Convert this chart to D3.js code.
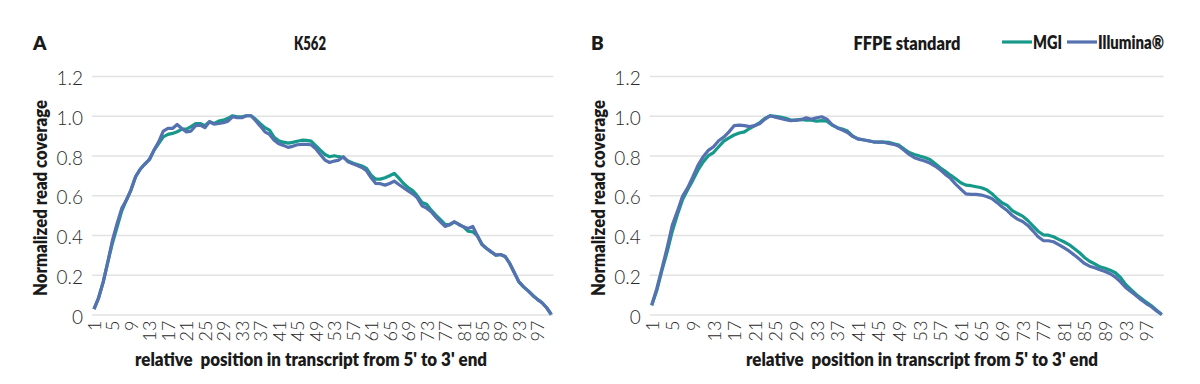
<!DOCTYPE html>
<html>
<head>
<meta charset="utf-8">
<script src="https://cdn.jsdelivr.net/npm/d3@7"></script>
<style>
  body { margin: 0; background: #fff; }
  svg text { font-family: Lato, "Noto Sans", sans-serif; fill: #1a1a1a; }
  .tick text { font-weight: 300; fill: #2a2a2a; }
  .title { font-weight: 800; }
</style>
</head>
<body>
<svg id="chart" width="1200" height="384"></svg>
<script>
// relative position along transcript, 1..100
const positions = d3.range(1, 101);
const xTickLabels = d3.range(1, 101, 4);
const yTicks = [0, 0.2, 0.4, 0.6, 0.8, 1.0, 1.2];
const seriesNames = ["MGI", "Illumina®"];

// K562 (panel A)
const k562Mgi = [
  0.027, 0.084, 0.164, 0.265, 0.360, 0.440, 0.520, 0.575, 0.626, 0.693,
  0.731, 0.757, 0.780, 0.827, 0.860, 0.894, 0.906, 0.911, 0.919, 0.933,
  0.933, 0.945, 0.961, 0.961, 0.950, 0.970, 0.961, 0.973, 0.978, 0.987,
  1.000, 0.995, 0.995, 1.000, 1.000, 0.982, 0.960, 0.940, 0.928, 0.891,
  0.874, 0.867, 0.862, 0.866, 0.872, 0.877, 0.876, 0.872, 0.849, 0.827,
  0.805, 0.794, 0.799, 0.794, 0.790, 0.772, 0.762, 0.755, 0.747, 0.735,
  0.701, 0.681, 0.681, 0.688, 0.698, 0.710, 0.686, 0.659, 0.639, 0.624,
  0.597, 0.564, 0.555, 0.525, 0.500, 0.477, 0.453, 0.451, 0.466, 0.453,
  0.441, 0.419, 0.416, 0.396, 0.352, 0.332, 0.315, 0.299, 0.302, 0.292,
  0.257, 0.210, 0.164, 0.139, 0.119, 0.096, 0.076, 0.059, 0.034, 0.000
];
const k562Illumina = [
  0.027, 0.084, 0.164, 0.265, 0.374, 0.458, 0.534, 0.575, 0.626, 0.693,
  0.731, 0.757, 0.780, 0.827, 0.869, 0.923, 0.936, 0.936, 0.956, 0.936,
  0.919, 0.923, 0.950, 0.953, 0.940, 0.970, 0.958, 0.961, 0.965, 0.973,
  0.995, 0.990, 0.990, 1.000, 1.000, 0.975, 0.948, 0.919, 0.906, 0.877,
  0.859, 0.851, 0.841, 0.846, 0.854, 0.856, 0.856, 0.854, 0.834, 0.805,
  0.777, 0.765, 0.772, 0.777, 0.794, 0.768, 0.758, 0.750, 0.740, 0.723,
  0.688, 0.659, 0.658, 0.651, 0.659, 0.671, 0.654, 0.638, 0.622, 0.607,
  0.587, 0.547, 0.535, 0.517, 0.490, 0.466, 0.443, 0.453, 0.466, 0.453,
  0.441, 0.433, 0.443, 0.396, 0.352, 0.332, 0.315, 0.299, 0.302, 0.292,
  0.257, 0.210, 0.164, 0.139, 0.119, 0.096, 0.076, 0.059, 0.034, 0.000
];

// FFPE standard (panel B)
const ffpeMgi = [
  0.047, 0.122, 0.223, 0.315, 0.419, 0.503, 0.579, 0.629, 0.676, 0.727,
  0.768, 0.799, 0.815, 0.844, 0.872, 0.889, 0.903, 0.913, 0.919, 0.936,
  0.950, 0.966, 0.987, 1.000, 0.997, 0.993, 0.987, 0.978, 0.978, 0.982,
  0.978, 0.978, 0.973, 0.975, 0.973, 0.953, 0.940, 0.933, 0.923, 0.898,
  0.884, 0.879, 0.874, 0.869, 0.867, 0.867, 0.866, 0.859, 0.852, 0.832,
  0.815, 0.805, 0.797, 0.790, 0.780, 0.760, 0.738, 0.720, 0.701, 0.683,
  0.663, 0.651, 0.648, 0.643, 0.638, 0.628, 0.609, 0.584, 0.562, 0.549,
  0.523, 0.508, 0.495, 0.473, 0.446, 0.419, 0.401, 0.399, 0.391, 0.378,
  0.366, 0.352, 0.332, 0.312, 0.287, 0.268, 0.255, 0.240, 0.233, 0.223,
  0.210, 0.186, 0.151, 0.126, 0.102, 0.082, 0.062, 0.044, 0.022, 0.000
];
const ffpeIllumina = [
  0.047, 0.131, 0.232, 0.336, 0.450, 0.520, 0.596, 0.638, 0.693, 0.752,
  0.794, 0.826, 0.844, 0.874, 0.893, 0.919, 0.950, 0.953, 0.950, 0.945,
  0.950, 0.961, 0.983, 1.000, 0.993, 0.987, 0.980, 0.975, 0.978, 0.980,
  0.990, 0.982, 0.990, 0.995, 0.983, 0.956, 0.940, 0.928, 0.916, 0.896,
  0.884, 0.879, 0.874, 0.869, 0.867, 0.867, 0.861, 0.856, 0.846, 0.826,
  0.805, 0.789, 0.780, 0.772, 0.762, 0.747, 0.728, 0.705, 0.685, 0.656,
  0.631, 0.607, 0.604, 0.604, 0.601, 0.594, 0.584, 0.564, 0.542, 0.523,
  0.498, 0.480, 0.468, 0.448, 0.421, 0.391, 0.372, 0.371, 0.366, 0.352,
  0.336, 0.320, 0.300, 0.279, 0.257, 0.243, 0.235, 0.225, 0.216, 0.205,
  0.188, 0.164, 0.136, 0.116, 0.096, 0.074, 0.055, 0.039, 0.018, 0.000
];

const colors = { MGI: "#16998a", "Illumina®": "#5571b0" };

const svg = d3.select("#chart");

// bold label, squeezed to the width seen in the original (condensed face)
function label(g, txt, x, y, width, anchor) {
  const t = g.append("text").attr("class", "title")
    .attr("x", x).attr("y", y)
    .attr("font-size", 19)
    .attr("text-anchor", anchor || "start")
    .attr("xml:space", "preserve")
    .text(txt);
  if (width) t.attr("textLength", width).attr("lengthAdjust", "spacingAndGlyphs");
  return t;
}

function drawPanel(cfg) {
  const g = svg.append("g");

  const x = d3.scalePoint().domain(positions).range([cfg.x0, cfg.x1]);
  const y = d3.scaleLinear().domain([0, 1.2]).range([314.5, 76]);

  // gridlines + y labels
  const yAxis = g.append("g")
    .attr("transform", `translate(${cfg.x0 - 2},0)`)
    .call(d3.axisLeft(y)
      .tickValues(yTicks)
      .tickSize(-(cfg.x1 - cfg.x0 + 4))
      .tickPadding(9)
      .tickFormat(d => d === 0 ? "0" : d3.format(".1f")(d)));
  yAxis.select(".domain").remove();
  yAxis.selectAll(".tick line").attr("stroke", "#e2e2e2").attr("stroke-width", 1.5);
  yAxis.selectAll(".tick text").attr("font-size", 19).attr("dy", "0.45em");

  // x labels, rotated
  const xAxis = g.append("g")
    .attr("transform", `translate(0,${y(0)})`)
    .call(d3.axisBottom(x).tickValues(xTickLabels).tickSize(0));
  xAxis.select(".domain").remove();
  xAxis.selectAll(".tick text")
    .attr("font-size", 18)
    .attr("transform", "rotate(-90)")
    .attr("x", -6)
    .attr("y", 0)
    .attr("dy", "0.36em")
    .style("text-anchor", "end");

  const line = d3.line()
    .x((d, i) => x(positions[i]))
    .y(d => y(d));

  g.append("path")
    .datum(cfg.mgi)
    .attr("fill", "none")
    .attr("stroke", colors.MGI)
    .attr("stroke-width", 3.2)
    .attr("stroke-linejoin", "round")
    .attr("d", line);
  g.append("path")
    .datum(cfg.illumina)
    .attr("fill", "none")
    .attr("stroke", colors["Illumina®"])
    .attr("stroke-width", 3.2)
    .attr("stroke-linejoin", "round")
    .attr("d", line);

  label(g, cfg.letter, cfg.letterX, 50, null);
  label(g, cfg.title, cfg.titleX, 50, cfg.titleW, "middle");
  label(g, "Normalized read coverage", 0, 0, 196, "middle")
    .attr("x", null).attr("y", null)
    .attr("transform", `translate(${cfg.yTitleX},198) rotate(-90)`);
  label(g, "relative  position in transcript from 5' to 3' end",
    cfg.xTitleX, 366, 352, "middle");
}

drawPanel({
  x0: 94, x1: 551.3, letter: "A", letterX: 33, title: "K562", titleX: 310, titleW: 32,
  yTitleX: 47, xTitleX: 311, mgi: k562Mgi, illumina: k562Illumina
});
drawPanel({
  x0: 651.7, x1: 1161.7, letter: "B", letterX: 591, title: "FFPE standard", titleX: 907, titleW: 107,
  yTitleX: 605, xTitleX: 922, mgi: ffpeMgi, illumina: ffpeIllumina
});

// legend
const legendWidths = { MGI: 29, "Illumina®": 66 };
const legend = svg.append("g").attr("transform", "translate(1002,42)");
let lx = 0;
seriesNames.forEach(name => {
  legend.append("line")
    .attr("x1", lx).attr("x2", lx + 30)
    .attr("y1", 0).attr("y2", 0)
    .attr("stroke", colors[name]).attr("stroke-width", 3.2);
  label(legend, name, lx + 31, 7, legendWidths[name]);
  lx += 31 + legendWidths[name] + 5;
});
</script>
</body>
</html>
